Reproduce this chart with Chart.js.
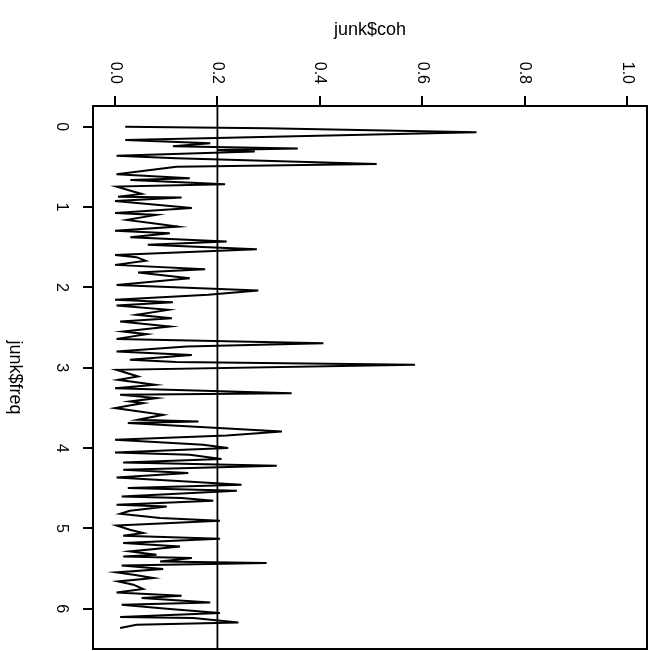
<!DOCTYPE html>
<html lang="en">
<head>
  <meta charset="UTF-8" />
  <title>junk$coh vs junk$freq</title>
  <script src="https://cdn.jsdelivr.net/npm/chart.js"></script>
  <style>
    html, body { margin: 0; padding: 0; background: #fff; }
    #chart { display: block; }
  </style>
</head>
<body>
  <canvas id="chart" width="652" height="651"></canvas>

  <script>
    // frequency (runs down the page) and coherence (runs across)
    const freq = [0.000,0.020,0.070,0.165,0.206,0.243,0.271,0.290,0.308,0.361,
      0.393,0.464,0.498,0.592,0.642,0.663,0.716,0.746,0.837,0.871,
      0.883,0.924,1.011,1.073,1.098,1.160,1.201,1.244,1.294,1.326,
      1.376,1.430,1.471,1.525,1.596,1.624,1.670,1.720,1.774,1.816,
      1.886,1.969,2.040,2.093,2.155,2.184,2.226,2.280,2.342,2.383,
      2.425,2.488,2.550,2.582,2.641,2.694,2.736,2.799,2.840,2.902,
      2.930,2.964,3.026,3.109,3.150,3.213,3.254,3.316,3.337,3.378,
      3.420,3.440,3.502,3.586,3.648,3.669,3.689,3.794,3.843,3.897,
      3.959,4.000,4.055,4.083,4.137,4.179,4.220,4.270,4.311,4.366,
      4.415,4.456,4.498,4.531,4.602,4.622,4.655,4.705,4.726,4.780,
      4.817,4.871,4.904,4.963,5.016,5.057,5.091,5.128,5.182,5.224,
      5.286,5.327,5.348,5.368,5.410,5.430,5.460,5.505,5.547,5.576,
      5.617,5.659,5.700,5.754,5.796,5.837,5.866,5.920,5.949,6.003,
      6.052,6.102,6.114,6.169,6.198,6.239];
    const coh = [0.020,0.296,0.706,0.020,0.186,0.113,0.357,0.200,0.273,0.003,
      0.120,0.511,0.120,0.003,0.146,0.030,0.215,0.003,0.052,0.006,
      0.130,0.000,0.150,0.000,0.081,0.023,0.074,0.123,0.000,0.107,
      0.030,0.218,0.064,0.277,0.000,0.042,0.060,0.000,0.176,0.045,
      0.146,0.003,0.280,0.182,0.000,0.113,0.003,0.104,0.042,0.111,
      0.010,0.107,0.016,0.062,0.003,0.407,0.140,0.003,0.150,0.029,
      0.120,0.586,0.003,0.045,0.006,0.078,0.000,0.345,0.010,0.081,
      0.029,0.055,0.000,0.094,0.045,0.163,0.025,0.326,0.218,0.000,
      0.172,0.221,0.000,0.146,0.208,0.016,0.316,0.016,0.143,0.003,
      0.140,0.247,0.025,0.238,0.013,0.130,0.192,0.003,0.101,0.029,
      0.010,0.088,0.205,0.003,0.029,0.055,0.016,0.205,0.016,0.127,
      0.029,0.081,0.016,0.150,0.088,0.296,0.013,0.094,0.003,0.036,
      0.075,0.006,0.036,0.055,0.003,0.130,0.052,0.186,0.013,0.107,
      0.205,0.010,0.153,0.241,0.042,0.010];

    const cohTicks = [0, 0.2, 0.4, 0.6, 0.8, 1.0];
    const freqTicks = [0, 1, 2, 3, 4, 5, 6];
    const refLevel = 0.2;
    const cohRange = [-0.043, 1.039];
    const freqRange = [-0.257, 6.50];

    const FONT = '"Liberation Sans", Arial, sans-serif';

    const points = freq.map((f, i) => ({ x: coh[i], y: f }));
    const refLine = [{ x: refLevel, y: freqRange[0] }, { x: refLevel, y: freqRange[1] }];

    // box, rotated tick labels and axis titles
    const decor = {
      id: 'decor',
      afterDraw(chart) {
        const ctx = chart.ctx;
        const a = chart.chartArea;
        const xs = chart.scales.x, ys = chart.scales.y;
        ctx.save();
        ctx.strokeStyle = '#000';
        ctx.lineWidth = 2;
        ctx.strokeRect(a.left, a.top, a.right - a.left, a.bottom - a.top);

        ctx.fillStyle = '#000';
        ctx.font = '16px ' + FONT;
        ctx.textBaseline = 'middle';
        cohTicks.forEach(v => {
          ctx.save();
          ctx.translate(xs.getPixelForValue(v), 84);
          ctx.rotate(Math.PI / 2);
          ctx.textAlign = 'right';
          ctx.fillText(v.toFixed(1), 0, 0);
          ctx.restore();
        });
        freqTicks.forEach(v => {
          ctx.save();
          ctx.translate(61, ys.getPixelForValue(v));
          ctx.rotate(Math.PI / 2);
          ctx.textAlign = 'center';
          ctx.fillText(String(v), 0, 0);
          ctx.restore();
        });

        ctx.font = '18px ' + FONT;
        ctx.textAlign = 'center';
        ctx.fillText('junk$coh', (a.left + a.right) / 2, 30);
        ctx.translate(15, (a.top + a.bottom) / 2);
        ctx.rotate(Math.PI / 2);
        ctx.fillText('junk$freq', 0, 0);
        ctx.restore();
      }
    };

    new Chart(document.getElementById('chart'), {
      type: 'scatter',
      data: {
        datasets: [
          {
            data: points,
            showLine: true,
            borderColor: '#000',
            borderWidth: 2,
            pointRadius: 0,
            tension: 0
          },
          {
            data: refLine,
            showLine: true,
            borderColor: '#000',
            borderWidth: 1.8,
            pointRadius: 0
          }
        ]
      },
      options: {
        responsive: false,
        animation: false,
        devicePixelRatio: 1,
        layout: { padding: { left: 0, top: 0, right: 5, bottom: 2 } },
        plugins: { legend: { display: false }, tooltip: { enabled: false } },
        scales: {
          x: {
            type: 'linear',
            position: 'top',
            min: cohRange[0],
            max: cohRange[1],
            afterBuildTicks: s => { s.ticks = cohTicks.map(v => ({ value: v })); },
            afterFit: s => { s.height = 106; },
            ticks: { display: false },
            grid: { drawOnChartArea: false, drawTicks: true, tickLength: 10, color: '#000', lineWidth: 2 },
            border: { display: false }
          },
          y: {
            type: 'linear',
            position: 'left',
            reverse: true,
            min: freqRange[0],
            max: freqRange[1],
            afterBuildTicks: s => { s.ticks = freqTicks.map(v => ({ value: v })); },
            afterFit: s => { s.width = 93; },
            ticks: { display: false },
            grid: { drawOnChartArea: false, drawTicks: true, tickLength: 10, color: '#000', lineWidth: 2 },
            border: { display: false }
          }
        }
      },
      plugins: [decor]
    });
  </script>
</body>
</html>
